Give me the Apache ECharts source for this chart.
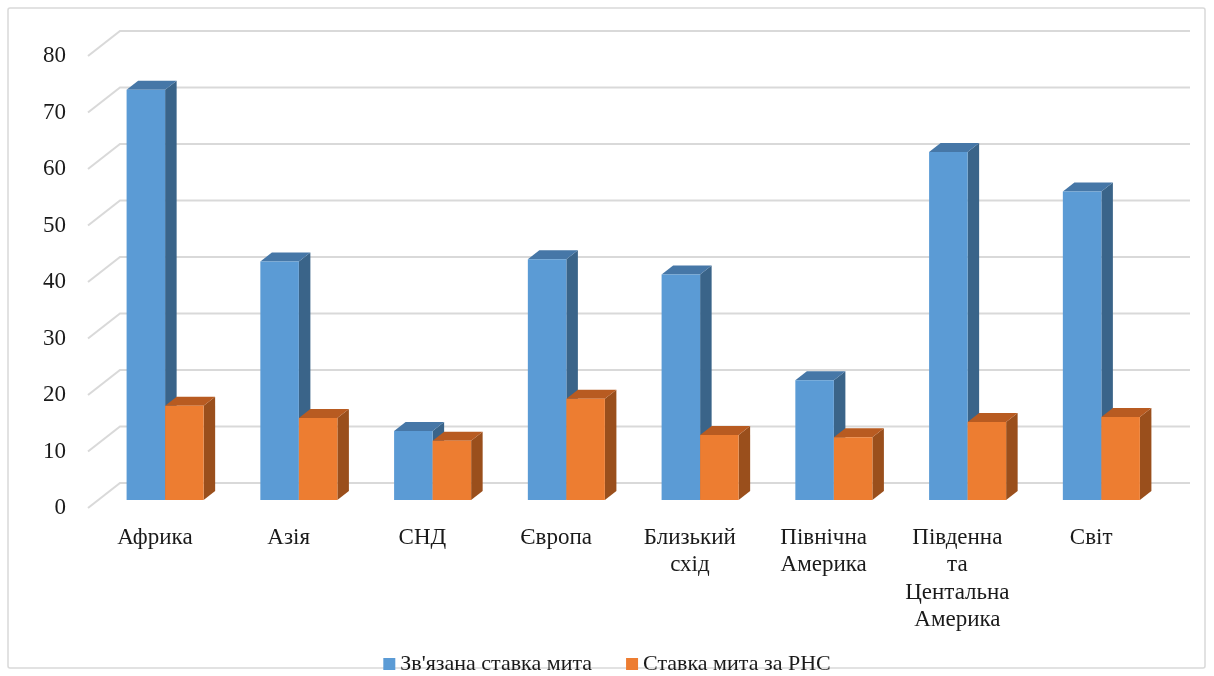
<!DOCTYPE html>
<html>
<head>
<meta charset="utf-8">
<script src="https://cdn.jsdelivr.net/npm/echarts@6/dist/echarts.min.js"></script>
<style>
  html, body { margin: 0; padding: 0; background: #fff; }
  #chart { width: 1214px; height: 676px; }
</style>
</head>
<body>
<div id="chart"></div>
<script>
// дані
var categories = ['Африка', 'Азія', 'СНД', 'Європа', 'Близький\nсхід', 'Північна\nАмерика', 'Південна\nта\nЦентальна\nАмерика', 'Світ'];
var boundRate = [72.6, 42.2, 12.2, 42.6, 39.9, 21.2, 61.6, 54.6];
var mfnRate = [16.7, 14.5, 10.5, 17.9, 11.5, 11.1, 13.8, 14.7];
var yTicks = [0, 10, 20, 30, 40, 50, 60, 70, 80];
var seriesNames = ['Зв\'язана ставка мита', 'Ставка мита за РНС'];

// 3D: глибина підлоги в пікселях
var depthX = 32, depthY = -25;
var t0 = 0.32, t1 = 0.68;
var barFrac = 0.288;

var palette = [
  { front: '#5b9bd5', top: '#4677a7', side: '#3a6489' },
  { front: '#ed7d31', top: '#b85b21', side: '#9a4f1c' }
];

var chart = echarts.init(document.getElementById('chart'));

function barRenderer(k) {
  return function (params, api) {
    var i = api.value(0);
    var p = api.coord([i, api.value(1)]);
    var b = api.coord([i, 0]);
    var band = api.size([1, 0])[0];
    var w = band * barFrac;
    var cx = p[0] + t0 * depthX;
    var xl = cx - w + k * w, xr = xl + w;
    var yt = p[1] + t0 * depthY, yb = b[1] + t0 * depthY;
    var sx = (t1 - t0) * depthX, sy = (t1 - t0) * depthY;
    var c = palette[k];
    return {
      type: 'group',
      children: [
        { type: 'polygon', shape: { points: [[xr, yt], [xr + sx, yt + sy], [xr + sx, yb + sy], [xr, yb]] },
          style: { fill: c.side } },
        { type: 'polygon', shape: { points: [[xl, yt], [xr, yt], [xr + sx, yt + sy], [xl + sx, yt + sy]] },
          style: { fill: c.top } },
        { type: 'rect', shape: { x: xl, y: yt, width: w, height: yb - yt },
          style: { fill: c.front } }
      ]
    };
  };
}

var option = {
  backgroundColor: '#fff',
  animation: false,
  textStyle: { fontFamily: 'Liberation Serif' },
  graphic: [{
    type: 'rect', z: -10,
    shape: { x: 8, y: 8, width: 1197, height: 660, r: 2 },
    style: { fill: 'none', stroke: '#d9d9d9', lineWidth: 1.5 }
  }],
  legend: {
    top: 648, left: 'center',
    icon: 'rect', itemWidth: 12, itemHeight: 12, itemGap: 34,
    textStyle: { fontFamily: 'Liberation Serif', fontSize: 22, color: '#1a1a1a' },
    data: [
      { name: seriesNames[0], itemStyle: { color: palette[0].front } },
      { name: seriesNames[1], itemStyle: { color: palette[1].front } }
    ]
  },
  grid: { left: 88, right: 56, top: 56, bottom: 168 },
  xAxis: {
    type: 'category',
    data: categories,
    axisLine: { show: false },
    axisTick: { show: false },
    axisLabel: {
      margin: 16, interval: 0,
      fontFamily: 'Liberation Serif', fontSize: 23, lineHeight: 27.5, color: '#1a1a1a'
    }
  },
  yAxis: {
    type: 'value', min: 0, max: 80, interval: 10,
    axisLine: { show: false },
    axisTick: { show: false },
    splitLine: { show: false },
    axisLabel: { margin: 22, padding: [8, 0, 0, 0], fontFamily: 'Liberation Serif', fontSize: 23, color: '#1a1a1a' }
  },
  series: [
    {
      type: 'custom', name: 'grid', silent: true, z: 1, clip: false,
      data: yTicks.map(function (v) { return [0, v]; }),
      renderItem: function (params, api) {
        var cs = params.coordSys;
        var y = api.coord([0, api.value(1)])[1];
        return {
          type: 'polyline',
          shape: { points: [[cs.x, y], [cs.x + depthX, y + depthY], [cs.x + cs.width + depthX, y + depthY]] },
          style: { stroke: '#d9d9d9', lineWidth: 2, fill: 'none' }
        };
      }
    },
    {
      type: 'custom', name: seriesNames[0], z: 2, clip: false,
      itemStyle: { color: palette[0].front },
      data: boundRate.map(function (v, i) { return [i, v]; }),
      renderItem: barRenderer(0)
    },
    {
      type: 'custom', name: seriesNames[1], z: 3, clip: false,
      itemStyle: { color: palette[1].front },
      data: mfnRate.map(function (v, i) { return [i, v]; }),
      renderItem: barRenderer(1)
    }
  ]
};

chart.setOption(option);
</script>
</body>
</html>
